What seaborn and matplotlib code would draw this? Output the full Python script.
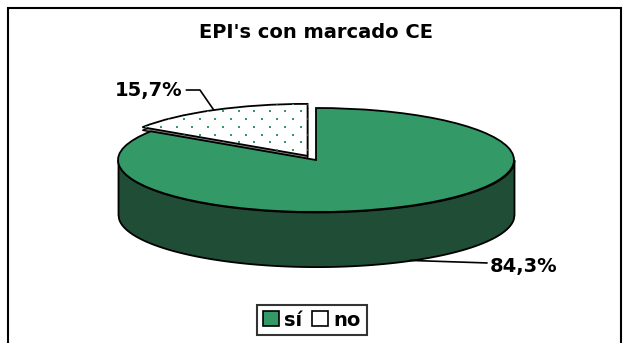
import numpy as np
import matplotlib
matplotlib.use("Agg")
import matplotlib.pyplot as plt
from matplotlib.patches import Patch, Rectangle
import seaborn as sns

# Data
categories = ["sí", "no"]
values = [84.3, 15.7]
title = "EPI's con marcado CE"

sns.set_theme(style="white")
plt.rcParams["font.family"] = ["DejaVu Sans"]
plt.rcParams["text.color"] = "black"

top_colors = ["#339966", "#ffffff"]
wall_color = "#1f4d36"
dot_color = "#339966"
explode = [0, 0.09]
depth = 1.05          # disc thickness, in radius units
px_x, px_y = 198, 52  # pixels per radius unit horizontally / vertically
cx, cy = 316, 160     # pie centre in pixels (from the top-left)
W, H = 624, 343

fig = plt.figure(figsize=(W / 100, H / 100), dpi=100)
ax = fig.add_axes([0, 0, 1, 1])

# side wall of the disc (front half)
x = np.linspace(-1, 1, 600)
front = -np.sqrt(1 - x ** 2)
ax.fill_between(x, front, front - depth, facecolor=wall_color,
                edgecolor="black", linewidth=1.3, zorder=1)

# thin cut face under the separated slice
shadow = ax.pie(values, startangle=90, counterclock=False, explode=explode,
                colors=["none", "#8c8c8c"], center=(0, -0.06),
                wedgeprops=dict(edgecolor="black", linewidth=1.0, zorder=2))[0]
shadow[0].set_visible(False)

# top surface
wedges = ax.pie(values, startangle=90, counterclock=False, explode=explode,
                colors=top_colors,
                wedgeprops=dict(edgecolor="black", linewidth=1.3, zorder=3))[0]

ax.set_aspect("auto")
ax.set_xlim(-cx / px_x, (W - cx) / px_x)
ax.set_ylim(-(H - cy) / px_y, cy / px_y)
ax.set_axis_off()

# dotted texture for the "no" slice (staggered grid, clipped to the wedge)
gx, gy = [], []
for i, py in enumerate(np.arange(96, 170, 7.7)):
    shift = 0 if i % 2 == 0 else 7.75
    for pxx in np.arange(130 + shift, 320, 15.5):
        gx.append((pxx - cx) / px_x)
        gy.append((cy - py) / px_y)
dots = ax.scatter(gx, gy, s=2.6, marker="s", color=dot_color,
                  linewidths=0, zorder=4)
dots.set_clip_path(wedges[1])

# percentage labels with leader lines
fracs = np.array(values) / np.sum(values)
starts = 90 - 360 * np.concatenate([[0], np.cumsum(fracs)[:-1]])
mids = np.deg2rad(starts - 180 * fracs)
labels = [f"{v:.1f}%".replace(".", ",") for v in values]
font = dict(fontsize=14, fontweight="bold", color="black")

# "no": leader from the rim of the separated slice
r = 1 + explode[1]
ax_no = (r * np.cos(mids[1]), r * np.sin(mids[1]))
ax.plot([ax_no[0], -0.586, -0.655], [ax_no[1], 1.346, 1.346],
        color="black", lw=1.2, zorder=5)
ax.text(-0.675, 1.346, labels[1], ha="right", va="center", zorder=5, **font)

# "sí": leader from the bottom edge of the wall
ax_si = (np.cos(mids[0]), np.sin(mids[0]) - depth)
ax.plot([ax_si[0], 0.864], [ax_si[1], -1.98], color="black", lw=1.2, zorder=5)
ax.text(0.879, -2.04, labels[0], ha="left", va="center", zorder=5, **font)

# title
fig.text(cx / W, 1 - 33 / H, title, ha="center", va="center",
         fontsize=14, fontweight="bold", color="black")

# legend
handles = [Patch(facecolor=c, edgecolor="black", linewidth=1.2) for c in top_colors]
leg = fig.legend(handles, categories, loc="center",
                 bbox_to_anchor=(312 / W, 23 / H), ncol=2, frameon=True,
                 fancybox=False, edgecolor="black", handlelength=0.8,
                 handleheight=0.8, handletextpad=0.3, columnspacing=0.5,
                 borderpad=0.3, labelcolor="black",
                 prop=dict(weight="bold", size=14))
leg.get_frame().set_linewidth(1.5)

# chart border
fig.add_artist(Rectangle((8 / W, -0.1), (621 - 8) / W, 1.1 - 8 / H,
                         transform=fig.transFigure, fill=False,
                         edgecolor="black", linewidth=1.5))

fig.savefig("out.png", dpi=100, facecolor="white")
